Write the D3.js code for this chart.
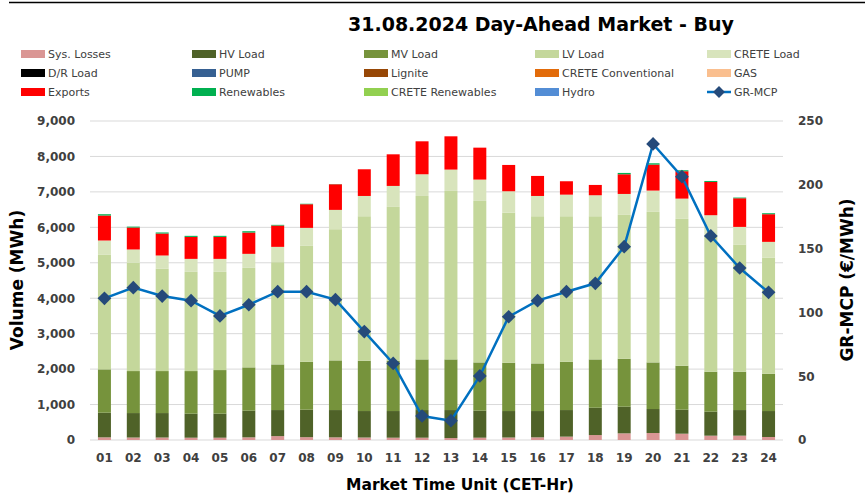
<!DOCTYPE html>
<html><head><meta charset="utf-8">
<script src="https://cdn.jsdelivr.net/npm/d3@7"></script>
<style>
body{margin:0;background:#fff;}
svg text{font-family:"DejaVu Sans",sans-serif;}
</style></head>
<body><svg id="c" width="865" height="502"></svg>
<script>
const hours = ["01","02","03","04","05","06","07","08","09","10","11","12","13","14","15","16","17","18","19","20","21","22","23","24"];
// Individual (non-cumulative) series values, MWh
const sysLosses = [75,70,70,65,65,75,110,80,75,70,65,65,55,65,70,75,95,140,188,197,178,122,122,85];
const hvLoad = [695,690,690,677,677,752,735,775,770,747,752,780,790,762,747,742,750,771,752,677,677,677,723,732];
const mvLoad = [1223,1185,1185,1203,1231,1222,1288,1353,1401,1419,1419,1429,1429,1362,1363,1344,1363,1363,1352,1315,1240,1127,1081,1052];
const lvLoad = [3230,3053,2884,2799,2771,2808,2884,3269,3701,4077,4340,4611,4753,4556,4236,4152,4105,4039,4059,4247,4144,3854,3590,3280];
const creteLoad = [405,377,376,366,366,395,432,508,545,572,592,612,602,602,602,572,609,592,591,601,571,562,496,441];
const drLoad = new Array(24).fill(0);
const pump = new Array(24).fill(0);
const lignite = new Array(24).fill(0);
const creteConv = new Array(24).fill(0);
const gas = new Array(24).fill(0);
const exportsV = [705,620,620,620,620,601,602,667,723,753,892,930,939,901,742,565,378,291,555,733,772,938,808,780];
const renewables = [37,25,30,30,30,37,19,13,5,0,0,0,0,0,0,0,0,0,38,37,28,28,20,28];
const creteRen = new Array(24).fill(0);
const hydro = new Array(24).fill(0);
const mcp = [111,119.4,112.8,109.2,97.2,106,116.2,116.2,110,85,60,18.8,15.1,50.2,96.6,109.2,116.2,122.8,151.5,232,206.4,159.9,134.8,115.7];
const volTicks = [0,1000,2000,3000,4000,5000,6000,7000,8000,9000];
const mcpTicks = [0,50,100,150,200,250];

const seriesNames = ["Sys. Losses","HV Load","MV Load","LV Load","CRETE Load","D/R Load","PUMP","Lignite","CRETE Conventional","GAS","Exports","Renewables","CRETE Renewables","Hydro"];
const seriesData = [sysLosses,hvLoad,mvLoad,lvLoad,creteLoad,drLoad,pump,lignite,creteConv,gas,exportsV,renewables,creteRen,hydro];
const colors = ["#DA9694","#4F6228","#76933C","#C4D79B","#D8E4BC","#000000","#366092","#974706","#E26B0A","#FABF8F","#FF0000","#00B050","#92D050","#538DD5"];

const svg = d3.select("#c");
const L = 90, R = 783, T = 121, B = 440;

// top frame line
svg.append("line").attr("x1",9).attr("x2",865).attr("y1",2.5).attr("y2",2.5).attr("stroke","#000").attr("stroke-width",1.5);

const x = d3.scaleBand().domain(hours).range([L,R]).paddingInner(0.55).paddingOuter(0.275);
const y = d3.scaleLinear().domain([0,9000]).range([B,T]);
const y2 = d3.scaleLinear().domain([0,250]).range([B,T]);

// gridlines
svg.append("g").selectAll("line").data(volTicks).join("line")
  .attr("x1",L).attr("x2",R).attr("y1",d=>y(d)).attr("y2",d=>y(d))
  .attr("stroke","#D9D9D9").attr("stroke-width",1);

// stacked bars
const table = hours.map((h,i)=>{const o={h}; seriesNames.forEach((n,k)=>o[n]=seriesData[k][i]); return o;});
const stack = d3.stack().keys(seriesNames)(table);
svg.append("g").selectAll("g").data(stack).join("g")
  .attr("fill",(d,i)=>colors[i])
  .selectAll("rect").data(d=>d).join("rect")
  .attr("x",d=>x(d.data.h)).attr("width",x.bandwidth())
  .attr("y",d=>y(d[1])).attr("height",d=>Math.max(0,y(d[0])-y(d[1])));

// left axis
const ya = svg.append("g").attr("transform",`translate(${L-12},0)`)
  .call(d3.axisLeft(y).tickValues(volTicks).tickSize(0).tickFormat(d3.format(",")));
ya.select(".domain").remove();
ya.selectAll("text").attr("font-size",12).attr("font-weight","bold").attr("fill","#404040").attr("font-family","DejaVu Sans");

// right axis
const yb = svg.append("g").attr("transform",`translate(${R+12},0)`)
  .call(d3.axisRight(y2).tickValues(mcpTicks).tickSize(0));
yb.select(".domain").remove();
yb.selectAll("text").attr("font-size",12).attr("font-weight","bold").attr("fill","#404040").attr("font-family","DejaVu Sans");

// x axis
const xa = svg.append("g").attr("transform",`translate(0,${B+10})`)
  .call(d3.axisBottom(x).tickSize(0));
xa.select(".domain").remove();
xa.selectAll("text").attr("font-size",12).attr("font-weight","bold").attr("fill","#404040").attr("font-family","DejaVu Sans");

// MCP line
const line = d3.line().x((d,i)=>x(hours[i])+x.bandwidth()/2).y(d=>y2(d));
svg.append("path").datum(mcp).attr("d",line).attr("fill","none").attr("stroke","#0070C0").attr("stroke-width",2.5);
svg.append("g").selectAll("path").data(mcp).join("path")
  .attr("d",d3.symbol().type(d3.symbolDiamond2).size(120))
  .attr("transform",(d,i)=>`translate(${x(hours[i])+x.bandwidth()/2},${y2(d)})`)
  .attr("fill","#254A7A");

// titles
svg.append("text").attr("x",541).attr("y",31).attr("text-anchor","middle")
  .attr("font-size",19).attr("font-weight","bold").attr("fill","#000")
  .text("31.08.2024  Day-Ahead Market - Buy");
svg.append("text").attr("transform","translate(23,280) rotate(-90)").attr("text-anchor","middle")
  .attr("font-size",17).attr("font-weight","bold").attr("fill","#000").text("Volume (MWh)");
svg.append("text").attr("transform","translate(853,280) rotate(-90)").attr("text-anchor","middle")
  .attr("font-size",17).attr("font-weight","bold").attr("fill","#000").text("GR-MCP (€/MWh)");
svg.append("text").attr("x",460).attr("y",490).attr("text-anchor","middle")
  .attr("font-size",15.5).attr("font-weight","bold").attr("fill","#000").text("Market Time Unit (CET-Hr)");

// legend
const legendItems = seriesNames.concat(["GR-MCP"]);
const colX = [21,192,364,535,707];
const rowY = [54,73,92];
const lg = svg.append("g").selectAll("g").data(legendItems).join("g")
  .attr("transform",(d,i)=>`translate(${colX[i%5]},${rowY[Math.floor(i/5)]})`);
lg.each(function(d,i){
  const g = d3.select(this);
  if(d==="GR-MCP"){
    g.append("line").attr("x1",0).attr("x2",24).attr("y1",0).attr("y2",0).attr("stroke","#0070C0").attr("stroke-width",2.5);
    g.append("path").attr("d",d3.symbol().type(d3.symbolDiamond2).size(90)).attr("transform","translate(12,0)").attr("fill","#254A7A");
  } else {
    g.append("rect").attr("x",0).attr("y",-4).attr("width",24).attr("height",8).attr("fill",colors[i]);
  }
  g.append("text").attr("x",27).attr("y",4).attr("font-size",11).attr("fill","#404040").text(d);
});
</script></body></html>
